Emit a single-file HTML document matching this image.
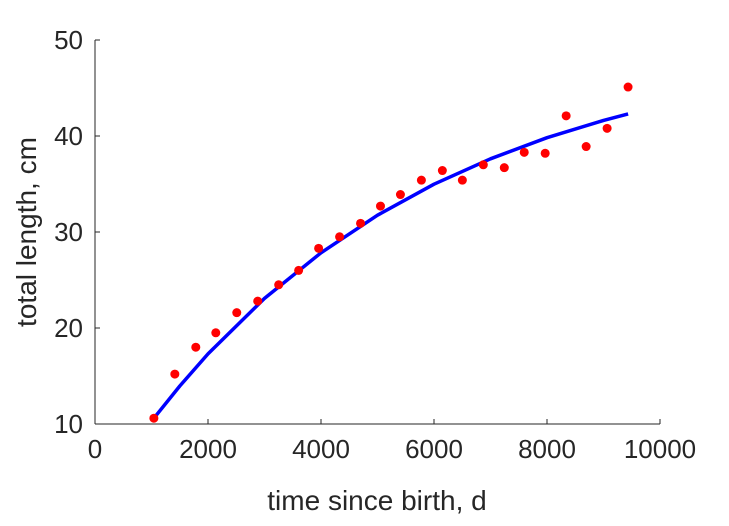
<!DOCTYPE html>
<html><head><meta charset="utf-8"><style>
body{margin:0;background:#fff;}
svg text{font-family:"Liberation Sans",Arial,sans-serif;fill:#262626;}
</style></head><body>
<svg id="chart" width="729" height="521" viewBox="0 0 729 521" xmlns="http://www.w3.org/2000/svg">
<g id="axes"></g>
<g id="marks"></g>
<text x="377" y="510" font-size="28" text-anchor="middle">time since birth, d</text>
<text transform="translate(36,232) rotate(-90)" font-size="28" text-anchor="middle">total length, cm</text>
</svg>
<script>
const obsT=[1042,1413,1784,2138,2509,2880,3251,3604,3958,4329,4700,5053,5406,5777,6148,6502,6873,7244,7597,7968,8339,8693,9064,9435];
const obsL=[10.6,15.2,18.0,19.5,21.6,22.8,24.5,26.0,28.3,29.5,30.9,32.7,33.9,35.4,36.4,35.4,37.0,36.7,38.3,38.2,42.1,38.9,40.8,45.1];
const fitT=[1042,1500,2000,3000,4000,5000,6000,7000,8000,9000,9435];
const fitL=[10.6,13.96,17.30,23.08,27.83,31.75,34.98,37.63,39.82,41.62,42.30];
const xTicks=[0,2000,4000,6000,8000,10000];
const yTicks=[10,20,30,40,50];
const NS="http://www.w3.org/2000/svg";
const X0=95,X1=660,Y0=424,Y1=40;
function xs(v){return X0+(v-0)/10000*(X1-X0);}
function ys(v){return Y0-(v-10)/40*(Y0-Y1);}
function mk(t,a,p){const e=document.createElementNS(NS,t);for(const k in a)e.setAttribute(k,a[k]);p.appendChild(e);return e;}
const axes=document.getElementById('axes'),marks=document.getElementById('marks');
let xl=mk('line',{x1:X0,y1:Y0,x2:X1,y2:Y0,stroke:'#262626','stroke-width':1},axes);


let yl=mk('line',{x1:X0,y1:Y0,x2:X0,y2:Y1,stroke:'#262626','stroke-width':1},axes);


xTicks.forEach(v=>{
 const x=xs(v);
 mk('line',{x1:x,y1:Y0,x2:x,y2:Y0-5,stroke:'#262626'},axes);
 const t=mk('text',{x:x,y:Y0+34,'font-size':26,'text-anchor':'middle'},axes);
 t.textContent=v;
 
 
});
yTicks.forEach(v=>{
 const y=ys(v);
 mk('line',{x1:X0,y1:y,x2:X0+5,y2:y,stroke:'#262626'},axes);
 const t=mk('text',{x:X0-12,y:y+9,'font-size':26,'text-anchor':'end'},axes);
 t.textContent=v;
 
 
});
const pts=fitT.map((t,i)=>xs(t).toFixed(1)+','+ys(fitL[i]).toFixed(1)).join(' ');
const fl=mk('polyline',{points:pts,fill:'none',stroke:'#0000ff','stroke-width':3.5,'stroke-linejoin':'round'},marks);


obsT.forEach((t,i)=>{
 const c=mk('circle',{cx:xs(t),cy:ys(obsL[i]),r:4.5,fill:'#ff0000'},marks);
 
 
});
</script>
</body></html>
